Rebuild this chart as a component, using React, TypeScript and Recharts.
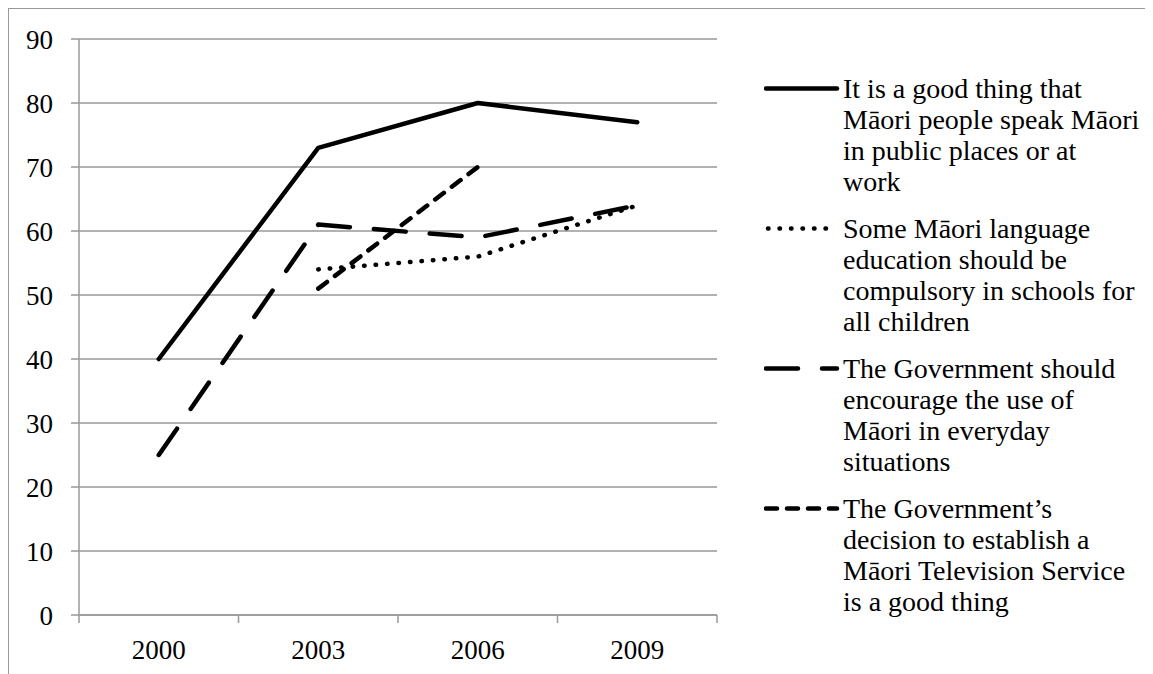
import { LineChart, Line, XAxis, YAxis, CartesianGrid } from 'recharts'

// Survey years and the share (%) agreeing with each statement
const years = ['2000', '2003', '2006', '2009']
const goodThing = [40, 73, 80, 77]
const compulsory = [null, 54, 56, 64]
const encourage = [25, 61, 59, 64]
const tvService = [null, 51, 70, null]

const yTicks = [0, 10, 20, 30, 40, 50, 60, 70, 80, 90]

const legendLines = [
    ['It is a good thing that', 'Māori people speak Māori', 'in public places or at', 'work'],
    ['Some Māori language', 'education should be', 'compulsory in schools for', 'all children'],
    ['The Government should', 'encourage the use of', 'Māori in everyday', 'situations'],
    ['The Government’s', 'decision to establish a', 'Māori Television Service', 'is a good thing'],
]

const FONT = '"Liberation Serif", "Times New Roman", serif'
const GRID = '#999999'

// line styles: solid, round dot, long dash, dash
const series = [
    { key: 'goodThing', dash: undefined as string | undefined },
    { key: 'compulsory', dash: '0.5 11' },
    { key: 'encourage', dash: '32 24' },
    { key: 'tvService', dash: '11 10' },
]

// each year sits in the middle of its band, ticks fall on band edges
const data = years.map((year, i) => ({
    pos: i + 0.5,
    year,
    goodThing: goodThing[i],
    compulsory: compulsory[i],
    encourage: encourage[i],
    tvService: tvService[i],
}))

const xTicks = [0, 0.5, 1, 1.5, 2, 2.5, 3, 3.5, 4]

const XTick = (props: any) => {
    const { x, y, payload } = props
    const v = payload.value as number
    if (Number.isInteger(v)) {
        return <line x1={x} x2={x} y1={y} y2={y + 8} stroke={GRID} strokeWidth={1.5} />
    }
    return (
        <text x={x} y={y + 44} textAnchor="middle" fill="#000" fontSize={27} fontFamily={FONT}>
            {years[Math.floor(v)]}
        </text>
    )
}

function LegendBlock() {
    return (
        <div style={{ position: 'absolute', left: 756, top: 0 }}>
            {series.map((s, i) => (
                <div key={s.key} style={{ position: 'absolute', top: 64.5 + i * 140, left: 0, width: 390 }}>
                    <svg width={80} height={31} style={{ position: 'absolute', left: 0, top: 0 }}>
                        <line
                            x1={s.key === 'compulsory' ? 4 : 2}
                            x2={s.key === 'compulsory' ? 72 : 73}
                            y1={15.5}
                            y2={15.5}
                            stroke="#000"
                            strokeWidth={4.5}
                            strokeLinecap="round"
                            strokeDasharray={s.dash}
                        />
                    </svg>
                    <div
                        style={{
                            position: 'absolute',
                            left: 79,
                            top: 0,
                            fontFamily: FONT,
                            fontSize: 28,
                            lineHeight: '31px',
                            color: '#000',
                            whiteSpace: 'nowrap',
                        }}
                    >
                        {legendLines[i].map(line => (
                            <div key={line}>{line}</div>
                        ))}
                    </div>
                </div>
            ))}
        </div>
    )
}

export default function App() {
    return (
        <div style={{ position: 'relative', width: 1145, height: 666 }}>
            <style>{'body{overflow:hidden}'}</style>
            {/* chart area frame, runs off the right and bottom edges */}
            <div
                style={{
                    position: 'absolute',
                    left: 0,
                    top: 0,
                    width: 1200,
                    height: 720,
                    borderLeft: `1.5px solid ${GRID}`,
                    borderTop: `1.5px solid ${GRID}`,
                    boxSizing: 'border-box',
                }}
            />
            <div style={{ position: 'absolute', left: 0, top: 0 }}>
                <LineChart
                    width={1145}
                    height={666}
                    data={data}
                    margin={{ top: 31, right: 436, bottom: 0, left: 0 }}
                >
                    <CartesianGrid vertical={false} stroke={GRID} strokeWidth={1.5} />
                    <XAxis
                        type="number"
                        dataKey="pos"
                        domain={[0, 4]}
                        ticks={xTicks}
                        interval={0}
                        height={59}
                        tickSize={0}
                        tickMargin={0}
                        tickLine={false}
                        axisLine={{ stroke: GRID, strokeWidth: 1.5 }}
                        tick={<XTick />}
                    />
                    <YAxis
                        domain={[0, 90]}
                        ticks={yTicks}
                        interval={0}
                        width={71}
                        tickSize={8}
                        tickMargin={18}
                        axisLine={{ stroke: GRID, strokeWidth: 1.5 }}
                        tickLine={{ stroke: GRID, strokeWidth: 1.5 }}
                        tick={{ fill: '#000', fontSize: 27, fontFamily: FONT }}
                    />
                    {series.map(s => (
                        <Line
                            key={s.key}
                            type="linear"
                            dataKey={s.key}
                            stroke="#000"
                            strokeWidth={4.5}
                            strokeDasharray={s.dash}
                            strokeLinecap="round"
                            strokeLinejoin="round"
                            dot={false}
                            activeDot={false}
                            isAnimationActive={false}
                        />
                    ))}
                </LineChart>
            </div>
            <LegendBlock />
        </div>
    )
}
